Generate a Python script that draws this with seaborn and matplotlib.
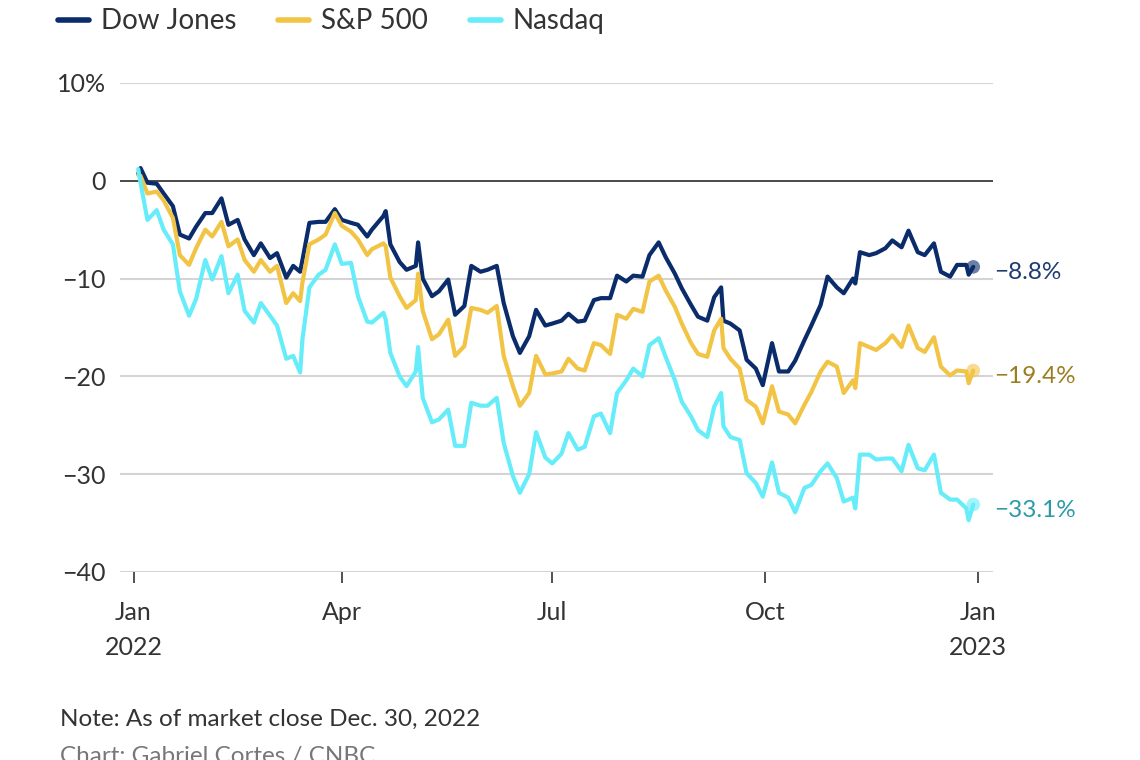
import pandas as pd
import matplotlib.pyplot as plt
from matplotlib.lines import Line2D
import seaborn as sns

# year-to-date % change (twice a week + a few spikes)
dates = [
    "2022-01-03", "2022-01-04", "2022-01-07", "2022-01-11", "2022-01-14", "2022-01-18",
    "2022-01-21", "2022-01-25", "2022-01-28", "2022-02-01", "2022-02-04", "2022-02-08",
    "2022-02-11", "2022-02-15", "2022-02-18", "2022-02-22", "2022-02-25", "2022-03-01",
    "2022-03-04", "2022-03-08", "2022-03-11", "2022-03-14", "2022-03-15", "2022-03-18",
    "2022-03-22", "2022-03-25", "2022-03-29", "2022-04-01", "2022-04-05", "2022-04-08",
    "2022-04-12", "2022-04-14", "2022-04-19", "2022-04-20", "2022-04-22", "2022-04-26",
    "2022-04-29", "2022-05-03", "2022-05-04", "2022-05-06", "2022-05-10", "2022-05-13",
    "2022-05-17", "2022-05-20", "2022-05-24", "2022-05-27", "2022-05-31", "2022-06-03",
    "2022-06-07", "2022-06-10", "2022-06-14", "2022-06-17", "2022-06-21", "2022-06-24",
    "2022-06-28", "2022-07-01", "2022-07-05", "2022-07-08", "2022-07-12", "2022-07-15",
    "2022-07-19", "2022-07-22", "2022-07-26", "2022-07-29", "2022-08-02", "2022-08-05",
    "2022-08-09", "2022-08-12", "2022-08-16", "2022-08-19", "2022-08-23", "2022-08-26",
    "2022-08-30", "2022-09-02", "2022-09-06", "2022-09-09", "2022-09-12", "2022-09-13",
    "2022-09-16", "2022-09-20", "2022-09-23", "2022-09-27", "2022-09-30", "2022-10-04",
    "2022-10-07", "2022-10-11", "2022-10-14", "2022-10-18", "2022-10-21", "2022-10-25",
    "2022-10-28", "2022-11-01", "2022-11-04", "2022-11-08", "2022-11-09", "2022-11-11",
    "2022-11-15", "2022-11-18", "2022-11-22", "2022-11-25", "2022-11-29", "2022-12-02",
    "2022-12-06", "2022-12-09", "2022-12-13", "2022-12-16", "2022-12-20", "2022-12-23",
    "2022-12-27", "2022-12-28", "2022-12-30",
]
dow = [
    0.7, 1.3, -0.2, -0.3, -1.3, -2.6, -5.5, -5.9, -4.7, -3.3, -3.3, -1.8,
    -4.5, -4.0, -6.0, -7.6, -6.4, -7.9, -7.4, -9.9, -8.7, -9.3, -8.1, -4.3,
    -4.2, -4.2, -2.9, -4.0, -4.3, -4.5, -5.7, -5.0, -3.6, -3.1, -6.5, -8.3,
    -9.1, -8.7, -6.3, -10.0, -11.8, -11.3, -10.1, -13.7, -12.8, -8.7, -9.3, -9.1,
    -8.7, -12.5, -15.9, -17.6, -15.9, -13.2, -14.8, -14.6, -14.3, -13.6, -14.4, -14.3,
    -12.2, -12.0, -12.0, -9.7, -10.3, -9.7, -9.8, -7.6, -6.3, -7.8, -9.5, -11.0,
    -12.7, -13.9, -14.3, -11.9, -10.9, -14.3, -14.6, -15.3, -18.3, -19.2, -20.9, -16.6,
    -19.5, -19.5, -18.4, -16.3, -14.8, -12.7, -9.8, -10.9, -11.5, -10.0, -10.5, -7.3,
    -7.6, -7.4, -6.9, -6.1, -6.8, -5.1, -7.3, -7.6, -6.4, -9.3, -9.8, -8.6,
    -8.6, -9.6, -8.8,
]
sp500 = [
    0.6, 0.5, -1.3, -1.1, -2.0, -3.8, -7.6, -8.6, -6.9, -5.0, -5.7, -4.2,
    -6.7, -6.0, -8.1, -9.3, -8.1, -9.3, -8.7, -12.5, -11.5, -12.3, -10.4, -6.5,
    -6.0, -5.5, -3.3, -4.6, -5.2, -6.0, -7.6, -7.0, -6.4, -6.7, -9.9, -11.8,
    -13.0, -12.2, -9.5, -13.3, -16.2, -15.7, -14.2, -17.9, -16.9, -13.0, -13.2, -13.5,
    -12.8, -17.9, -21.0, -23.0, -21.7, -17.9, -19.8, -19.7, -19.5, -18.2, -19.2, -19.4,
    -16.6, -16.8, -17.7, -13.7, -14.1, -13.1, -13.4, -10.3, -9.7, -11.2, -12.9, -14.6,
    -16.6, -17.7, -18.0, -15.3, -14.1, -17.1, -18.2, -19.2, -22.4, -23.1, -24.8, -21.0,
    -23.6, -23.9, -24.8, -22.9, -21.6, -19.5, -18.5, -19.0, -21.7, -20.4, -21.2, -16.6,
    -17.0, -17.3, -16.6, -15.8, -17.0, -14.8, -17.1, -17.5, -16.0, -19.0, -19.9, -19.4,
    -19.5, -20.7, -19.4,
]
nasdaq = [
    1.2, -0.2, -4.0, -3.0, -5.0, -6.5, -11.3, -13.8, -12.1, -8.1, -10.1, -7.7,
    -11.5, -9.6, -13.3, -14.5, -12.5, -13.8, -14.8, -18.2, -17.9, -19.6, -16.2, -10.9,
    -9.6, -9.1, -6.5, -8.5, -8.4, -11.8, -14.4, -14.5, -13.5, -14.2, -17.6, -20.0,
    -21.0, -19.5, -17.0, -22.2, -24.7, -24.4, -23.4, -27.1, -27.1, -22.7, -23.0, -23.0,
    -22.2, -26.8, -30.2, -31.9, -30.0, -25.7, -28.3, -28.9, -27.9, -25.8, -27.5, -27.2,
    -24.1, -23.8, -25.8, -21.7, -20.4, -19.2, -20.0, -16.8, -16.1, -18.0, -20.4, -22.6,
    -24.1, -25.5, -26.2, -23.1, -21.7, -25.1, -26.2, -26.5, -29.9, -30.9, -32.3, -28.8,
    -31.9, -32.4, -33.9, -31.4, -31.1, -29.7, -28.9, -30.4, -32.8, -32.4, -33.5, -28.0,
    -28.0, -28.5, -28.4, -28.4, -29.7, -27.0, -29.4, -29.6, -28.0, -31.9, -32.6, -32.6,
    -33.5, -34.7, -33.1,
]

series_names = ["Dow Jones", "S&P 500", "Nasdaq"]
line_colors = ["#0b2c6b", "#f2c445", "#66edf9"]
label_colors = ["#1d3b72", "#9c7d1e", "#2a9ba7"]
end_labels = ["−8.8%", "−19.4%", "−33.1%"]

y_ticks = [10, 0, -10, -20, -30, -40]
y_tick_labels = ["10%", "0", "−10", "−20", "−30", "−40"]
x_ticks = ["2022-01-01", "2022-04-01", "2022-07-01", "2022-10-01", "2023-01-01"]
x_tick_labels = ["Jan\n2022", "Apr", "Jul", "Oct", "Jan\n2023"]

df = pd.DataFrame({
    "date": pd.to_datetime(dates * 3),
    "change": dow + sp500 + nasdaq,
    "index": [n for n in series_names for _ in dates],
})

sns.set_theme(style="white")
plt.rcParams["font.family"] = ["Lato", "DejaVu Sans"]
text_color = "#333333"

fig = plt.figure(figsize=(11.4, 7.6), dpi=100)
ax = fig.add_axes([0.105, 0.2474, 0.766, 0.6434])

for y in y_ticks:
    if y == 0:
        ax.axhline(y, color="#4a4a4a", lw=1.4, zorder=1)
    else:
        ax.axhline(y, color="#d4d4d4", lw=1.5, zorder=1)

sns.lineplot(data=df, x="date", y="change", hue="index", hue_order=series_names,
             palette=line_colors, linewidth=3.0, legend=False, ax=ax, zorder=3,
             solid_joinstyle="round", solid_capstyle="round")

last = df.groupby("index", sort=False).tail(1)
for name, col, lcol, txt in zip(series_names, line_colors, label_colors, end_labels):
    row = last[last["index"] == name].iloc[0]
    ax.scatter([row["date"]], [row["change"]], s=95, color=col, alpha=0.6,
               edgecolors="none", zorder=4)
    ax.annotate(txt, xy=(row["date"], row["change"]), xytext=(15, -4),
                textcoords="offset points", va="center", ha="left",
                color=lcol, fontsize=17.5, annotation_clip=False)

ax.set_xlim(pd.Timestamp("2021-12-26"), pd.Timestamp("2023-01-07 12:00"))
ax.set_ylim(-40, 10)
ax.set_yticks(y_ticks)
ax.set_yticklabels(y_tick_labels)
ax.set_xticks(pd.to_datetime(x_ticks))
ax.set_xticklabels(x_tick_labels, linespacing=1.65)
ax.tick_params(axis="y", length=0, pad=10, labelsize=18, labelcolor=text_color)
ax.tick_params(axis="x", length=8, width=1.2, color="#333333", direction="out",
               pad=13, labelsize=18, labelcolor=text_color, bottom=True)
ax.set_xlabel("")
ax.set_ylabel("")
sns.despine(ax=ax, left=True, bottom=True)

handles = [Line2D([0], [0], color=c, lw=4, solid_capstyle="round") for c in line_colors]
fig.legend(handles, series_names, loc="center left", bbox_to_anchor=(0.039, 0.972),
           ncol=3, frameon=False, fontsize=20, handlelength=1.12, handletextpad=0.43,
           columnspacing=1.49, borderpad=0, labelcolor=text_color)

fig.text(0.053, 1 - 726 / 760, "Note: As of market close Dec. 30, 2022",
         va="baseline", fontsize=17.5, color=text_color)
fig.text(0.053, 1 - 763 / 760, "Chart: Gabriel Cortes / CNBC",
         va="baseline", fontsize=17.5, color="#777777")

fig.savefig("out.png", dpi=100)
